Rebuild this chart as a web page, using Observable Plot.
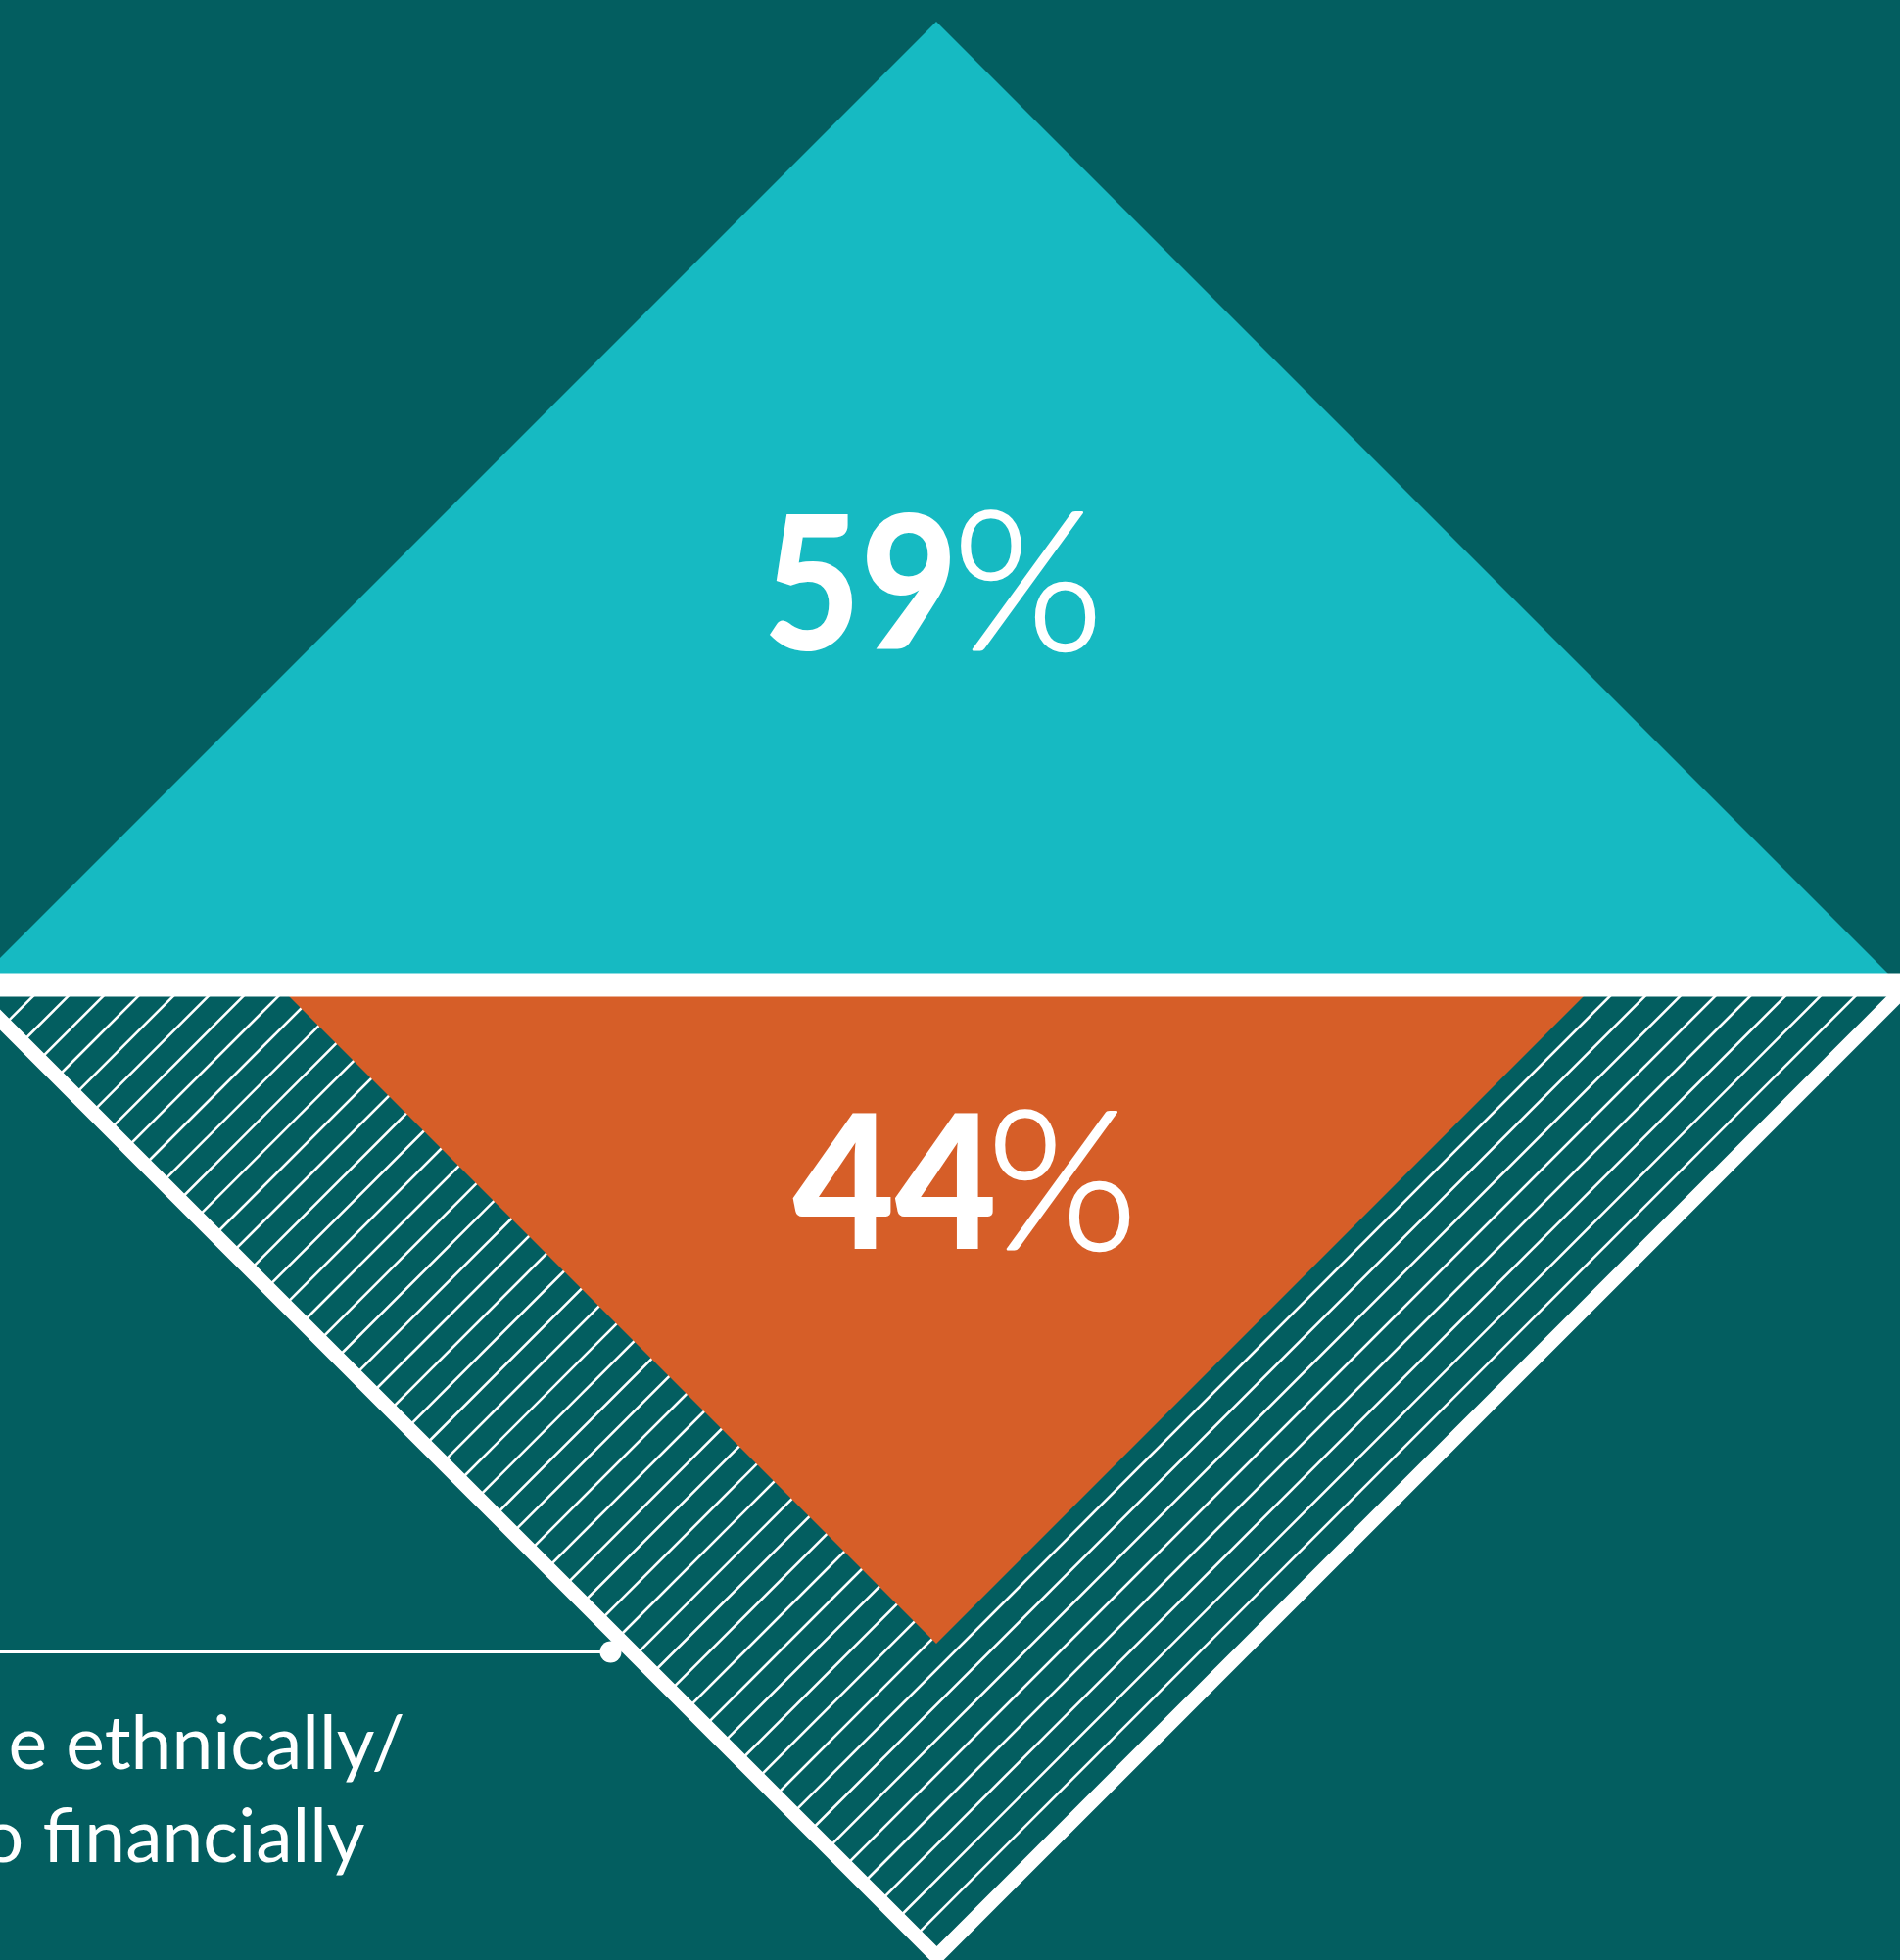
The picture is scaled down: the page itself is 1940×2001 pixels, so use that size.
<!DOCTYPE html>
<html><head><meta charset="utf-8">
<script src="https://cdn.jsdelivr.net/npm/d3@7"></script>
<script src="https://cdn.jsdelivr.net/npm/@observablehq/plot@0.6"></script>
<style>
html,body{margin:0;padding:0;background:#035E60;overflow:hidden;}
svg{display:block;}
</style></head><body><div id="chart"></div>
<script>
// ---- data ----
const shares = [59, 44];                 // percent values (top, bottom)
const shareLabels = ["59", "44"];
const percentSign = "%";
const annotationLines = ["e ethnically/", "o financially"];

// ---- colours ----
const bg = "#035E60", teal = "#16BAC2", orange = "#D65E28", white = "#FFFFFF";

// ---- geometry in diamond units (centre line of the white band = 0) ----
const W = 1940, H = 2001;
const T = 983;                 // top triangle half-size
const L = 992;                 // lower outline half-size (stroke centre)
const outlineW = 15, bandW = 24;
const Louter = L + outlineW / 2 * Math.SQRT2 + bandW / 2;
const S = Math.sqrt(shares[1] / 100) * Louter;   // orange triangle (area share)

const topTri = [{x: -T, y0: 0, y: 0}, {x: 0, y0: 0, y: T}, {x: T, y0: 0, y: 0}];
const orangeTri = [{x: -S, y0: 0, y: 0}, {x: 0, y0: 0, y: -S}, {x: S, y0: 0, y: 0}];
const outline = [{x: -L, y: 0}, {x: 0, y: -L}, {x: L, y: 0}];

const hatchStep = 35.78, hatchPhase = -911.3;
const hatch = d3.range(-3, 60).map(k => hatchPhase + k * hatchStep)
  .filter(d => d > -L && d < L)
  .map(d => ({x1: d, y1: 0, x2: (d - L) / 2, y2: -(d + L) / 2}));

// annotation leader
const annY = -681;
const dotX = (-annY - L) - 22;
const xMin = -956, xMax = W - 956, yMax = 1005, yMin = 1005 - H;

// label layout
const topLabelY = T * 0.348, botLabelY = -S * 0.401;
const labelRows = [
  {text: shareLabels[0], x: -177, y: topLabelY, sx: 0.9},
  {text: shareLabels[1], x: -147, y: botLabelY, sx: 0.945}
];
const pctRows = [
  {text: percentSign, x: 16, y: topLabelY},
  {text: percentSign, x: 51, y: botLabelY}
];
const annRows = [
  {text: annotationLines[0], x: -543, y: -800},
  {text: annotationLines[1], x: -584, y: -895}
];

const chart = Plot.plot({
  width: W, height: H, margin: 0,
  x: {domain: [xMin, xMax], range: [0, W], axis: null},
  y: {domain: [yMin, yMax], range: [H, 0], axis: null},
  style: {background: bg, overflow: "hidden"},
  marks: [
    Plot.areaY(topTri, {x: "x", y1: "y0", y2: "y", fill: teal, curve: "linear"}),
    Plot.link(hatch, {x1: "x1", y1: "y1", x2: "x2", y2: "y2", stroke: white, strokeWidth: 2.6}),
    Plot.areaY(orangeTri, {x: "x", y1: "y0", y2: "y", fill: orange, curve: "linear"}),
    Plot.line(outline, {x: "x", y: "y", stroke: white, strokeWidth: outlineW, strokeLinejoin: "miter", strokeLinecap: "butt", strokeMiterlimit: 10}),
    Plot.ruleY([0], {stroke: white, strokeWidth: bandW}),
    Plot.ruleY([annY], {x1: xMin, x2: dotX, stroke: white, strokeWidth: 3}),
    Plot.dot([{x: dotX, y: annY}], {x: "x", y: "y", r: 11, fill: white, stroke: null}),
    Plot.text(labelRows, {x: "x", y: "y", text: "text", textAnchor: "start", lineAnchor: "bottom",
      fill: white, fontSize: 190, fontWeight: 900, fontFamily: "Lato"}),
    Plot.text(pctRows, {x: "x", y: "y", text: "text", textAnchor: "start", lineAnchor: "bottom",
      fill: white, stroke: white, strokeWidth: 2.5, fontSize: 198, fontWeight: 300, fontFamily: "Lato"}),
    Plot.text(annRows, {x: "x", y: "y", text: "text", textAnchor: "end", lineAnchor: "bottom",
      fill: white, fontSize: 75, fontWeight: 400, fontFamily: "Lato"})
  ]
});
// narrow the bold digits horizontally (the original face is narrower than Lato)
const sxByText = new Map(labelRows.map(d => [d.text, d.sx]));
d3.select(chart).selectAll("text").each(function () {
  const t = this.textContent;
  if (!sxByText.has(t)) return;
  const sx = sxByText.get(t);
  const tr = this.getAttribute("transform");
  if (tr && tr.includes("translate")) {
    this.setAttribute("transform", tr + ` scale(${sx},1)`);
  } else {
    const x = +this.getAttribute("x") || 0, y = +this.getAttribute("y") || 0;
    this.removeAttribute("x"); this.removeAttribute("y");
    this.setAttribute("transform", `translate(${x},${y}) scale(${sx},1)`);
  }
});
document.getElementById("chart").appendChild(chart);
</script></body></html>
